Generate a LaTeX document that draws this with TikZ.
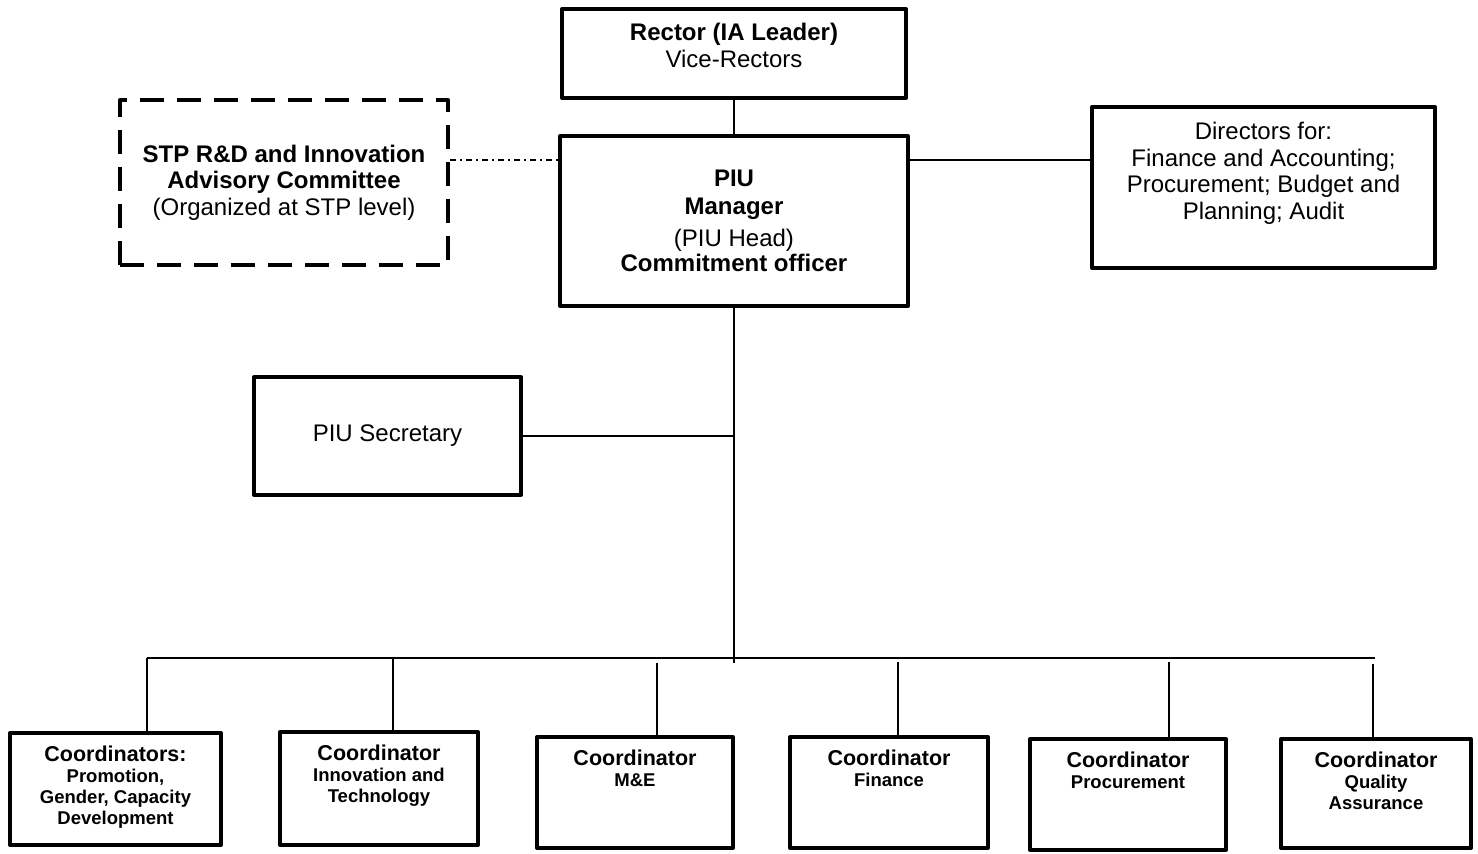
\documentclass[tikz,border=0pt]{standalone}
\usepackage{fontspec}
\setmainfont{Liberation Sans}
\tikzset{
 box/.style={draw, line width=4pt, line join=round, inner sep=0pt, align=center, font=\fontsize{24}{26.5}\selectfont},
 advbox/.style={box, dash pattern=on 24pt off 13pt},
 btext/.style={anchor=north, inner sep=0pt, align=center, font=\fontsize{24}{26.5}\selectfont},
 ctext/.style={anchor=north, inner sep=0pt, align=center, font=\fontsize{18.5}{21}\selectfont\bfseries},
 link/.style={line width=2pt},
 dotlink/.style={line width=1.5pt, dash pattern=on 6pt off 4pt on 2pt off 4pt}
}
\newcommand{\cobox}[7]{
\node[box, minimum width=#4, minimum height=#5] (#1) at (#2,#3) {};
\node[ctext, yshift=-15pt] (#1t) at (#1.north) {{\fontsize{21.5}{23}\selectfont #6}\\#7};}

\begin{document}
\begin{tikzpicture}[x=1pt,y=-1pt]
\useasboundingbox (0,0) rectangle (1478,854);

\node[box, minimum width=344, minimum height=89] (rector) at (734,53.5) {};
\node[btext, yshift=-16pt] (rectort) at (rector.north) {\textbf{Rector (IA Leader)}\\Vice-Rectors};
\node[box, minimum width=348, minimum height=170] (piu) at (734,221)
 {\textbf{PIU}\\[1.5pt]\textbf{Manager}\\[5.5pt](PIU Head)\\[-1.5pt]\textbf{Commitment officer}};
\node[advbox, minimum width=328, minimum height=165] (stp) at (284,182.5)
 {\textbf{STP R\&D and Innovation}\\\textbf{Advisory Committee}\\(Organized at STP level)};
\node[box, minimum width=343, minimum height=161] (dir) at (1263.5,187.5) {};
\node[btext, yshift=-17pt] (dirt) at (dir.north) {Directors for:\\Finance and Accounting;\\Procurement; Budget and\\Planning; Audit};
\node[box, minimum width=267, minimum height=118] (sec) at (387.5,436) {PIU Secretary};

\cobox{c1}{115.5}{789}{211}{112}{Coordinators:}{Promotion,\\Gender, Capacity\\Development}
\cobox{c2}{379}{788.5}{198}{113}{Coordinator}{Innovation and\\Technology}
\cobox{c3}{635}{792.5}{196}{111}{Coordinator}{M\&E}
\cobox{c4}{889}{792.5}{198}{111}{Coordinator}{Finance}
\cobox{c5}{1128}{794.5}{196}{111}{Coordinator}{Procurement}
\cobox{c6}{1376}{793.5}{190}{109}{Coordinator}{Quality\\Assurance}

\coordinate (lvl) at (0,160);
\coordinate (trunk) at (734,663);
\coordinate (busl) at (147,658);
\coordinate (busr) at (1375,658);

\draw[link] (rector) -- (piu);
\draw[dotlink] (stp.east |- lvl) -- (piu.west |- lvl);
\draw[link] (piu.east |- lvl) -- (dir.west |- lvl);
\draw[link] (piu.south) -- (trunk);
\draw[link] (sec.east) -- (sec.east -| trunk);
\draw[link] (busl) -- (busr);
\foreach \n/\x/\y in {1/147/658,2/393/657,3/657/663,4/898/662,5/1169/662,6/1373/664}{
	\coordinate (b\n) at (\x,\y);
	\draw[link] (b\n) -- (b\n |- c\n.north);
}
\end{tikzpicture}
\end{document}
